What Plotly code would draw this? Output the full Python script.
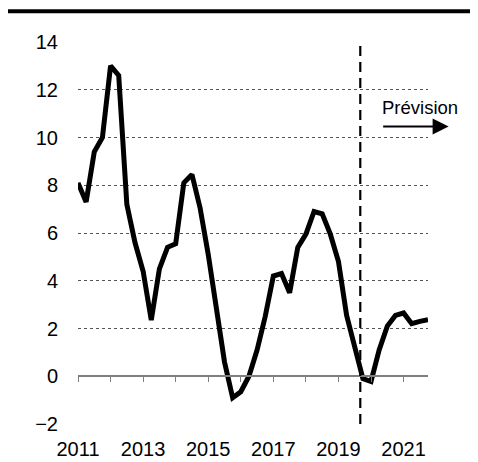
import plotly.graph_objects as go

# Quarterly data, 2011Q1 .. 2021Q4
START_YEAR = 2011
VALUES = [8.1, 7.3, 9.4, 10.0, 13.0, 12.6, 7.2, 5.6, 4.4, 2.35, 4.5, 5.4,
          5.55, 8.1, 8.45, 7.05, 5.1, 2.7, 0.6, -0.9, -0.65, 0.0, 1.1, 2.5,
          4.2, 4.3, 3.5, 5.4, 5.95, 6.9, 6.8, 5.95, 4.8, 2.55, 1.3, -0.1,
          -0.22, 1.1, 2.1, 2.55, 2.65, 2.2, 2.3, 2.37]
X_VALUES = [START_YEAR + 0.25 * i for i in range(len(VALUES))]

X_TICKVALS = [2011, 2013, 2015, 2017, 2019, 2021]
X_TICKTEXT = ["2011", "2013", "2015", "2017", "2019", "2021"]
Y_TICKVALS = [-2, 0, 2, 4, 6, 8, 10, 12, 14]
Y_TICKTEXT = ["\u22122", "0", "2", "4", "6", "8", "10", "12", "14"]
FORECAST_START = 2019.67
FORECAST_LABEL = "Prévision"

X_RANGE = [2011, 2021.75]
Y_RANGE = [-2, 14]

FONT = "Liberation Sans, Arial, sans-serif"
PLOT_H = 382.0
TOP = 33.7

fig = go.Figure()
fig.add_trace(go.Scatter(
    x=X_VALUES, y=VALUES, mode="lines",
    line=dict(color="black", width=5),
    showlegend=False, hoverinfo="skip", cliponaxis=False,
))
# invisible trace to bind the zero-line axis
fig.add_trace(go.Scatter(
    x=X_VALUES, y=VALUES, mode="lines", xaxis="x2",
    line=dict(color="rgba(0,0,0,0)", width=0),
    showlegend=False, hoverinfo="skip",
))

zero_pos = (0 - Y_RANGE[0]) / (Y_RANGE[1] - Y_RANGE[0])

fig.update_layout(
    width=470, height=454,
    margin=dict(l=70, r=50, t=TOP, b=454 - TOP - PLOT_H, autoexpand=False),
    paper_bgcolor="white", plot_bgcolor="white",
    font=dict(family=FONT, size=20, color="black"),
    xaxis=dict(
        range=X_RANGE, tickvals=X_TICKVALS, ticktext=X_TICKTEXT,
        showgrid=False, zeroline=False, showline=False, ticks="",
        ticklabelstandoff=11, automargin=False,
        tickfont=dict(family=FONT, size=20, color="black"),
    ),
    xaxis2=dict(
        range=X_RANGE, overlaying="x", anchor="free", position=zero_pos,
        side="bottom", showgrid=False, zeroline=False, automargin=False,
        showline=True, linecolor="#7f7f7f", linewidth=1.5,
        ticks="outside", ticklen=5, tickwidth=1.2, tickcolor="#7f7f7f",
        tick0=2011, dtick=1, showticklabels=False,
    ),
    yaxis=dict(
        range=Y_RANGE, tickvals=Y_TICKVALS, ticktext=Y_TICKTEXT,
        showgrid=True, gridcolor="#555555", gridwidth=1, griddash="dot",
        zeroline=False, showline=False, ticks="", automargin=False,
        ticklabelstandoff=19,
        tickfont=dict(family=FONT, size=20, color="black"),
    ),
)

# forecast start line
fig.add_shape(type="line", xref="x", yref="paper",
              x0=FORECAST_START, x1=FORECAST_START, y0=0, y1=1,
              line=dict(color="black", width=2.2, dash="10px,6px"))

# forecast label and arrow
fig.add_annotation(xref="paper", yref="paper", x=0.978, y=0.829,
                   text=FORECAST_LABEL, showarrow=False,
                   font=dict(family=FONT, size=18.5, color="black"),
                   xanchor="center", yanchor="middle")
fig.add_annotation(xref="paper", yref="paper", x=1.059, y=0.779,
                   ax=-67, ay=0, text="", showarrow=True,
                   arrowhead=2, arrowsize=1.6, arrowwidth=2,
                   arrowcolor="black")

# top rule
rule_y = 1 + (TOP - 3) / PLOT_H
fig.add_shape(type="line", xref="paper", yref="paper",
              x0=-72 / 350, x1=410 / 350, y0=rule_y, y1=rule_y,
              line=dict(color="black", width=4))

fig.write_html("out.html")
